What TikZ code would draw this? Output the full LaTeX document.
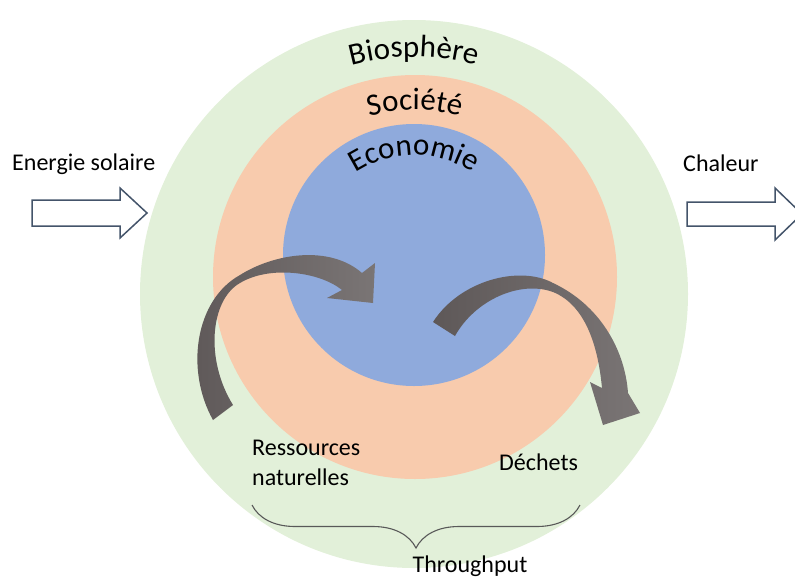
\documentclass[tikz,border=0pt]{standalone}
\usepackage{fontspec}
\setmainfont{Carlito}
\usetikzlibrary{decorations.text,decorations.pathreplacing}

\definecolor{bioGreen}{HTML}{E2F0D9}
\definecolor{socSalmon}{HTML}{F8CBAD}
\definecolor{ecoBlue}{HTML}{8FAADC}
\definecolor{flowDark}{HTML}{5E5858}
\definecolor{flowLight}{HTML}{7A7575}
\definecolor{hollowLine}{HTML}{44546A}
\definecolor{braceGray}{HTML}{595959}

\newcommand{\ringfont}{\fontsize{31}{36}\selectfont}

\begin{document}
\begin{tikzpicture}[
    x=1pt, y=-1pt,
    every node/.style = {font=\fontsize{24}{30}\selectfont, inner sep=0pt},
    txt/.style        = {anchor=base west},
    ringtitle/.style  = {decorate, decoration={text along path, text align=center, text={|\ringfont|#1}}},
    hollow/.style     = {draw=hollowLine, line width=1.5pt, fill=white},
    flowarrow/.style  = {left color=flowDark, right color=flowLight},
]
\useasboundingbox (0,0) rectangle (795,576);
\clip (0,0) rectangle (795,576);

\coordinate (bio) at (414,294);
\coordinate (soc) at (415,277);
\coordinate (eco) at (414,255);

% the three spheres
\fill[bioGreen]  (bio) circle[radius=274];
\fill[socSalmon] (soc) circle[radius=202];
\fill[ecoBlue]   (eco) circle[radius=131];

\path[ringtitle=Biosphère] (bio) ++(200:237) arc[start angle=200, end angle=340, radius=237];
\path[ringtitle=Société]   (soc) ++(205:167) arc[start angle=205, end angle=335, radius=167];
\path[ringtitle=Economie]  (eco) ++(0,7) ++(212:107) arc[start angle=212, end angle=328, radius=107];

% flows in and out of the economy
\shade[flowarrow] (213,420) .. controls (185,370) and (195,300) .. (240,275)
    .. controls (275,253) and (330,245) .. (362,273)
    -- (375,263) -- (373,303) -- (327,298) -- (342,290)
    .. controls (320,272) and (270,265) .. (240,283)
    .. controls (210,300) and (205,360) .. (233,405) -- cycle;
\shade[flowarrow] (433,322) .. controls (460,280) and (520,265) .. (553,283)
    .. controls (600,305) and (625,350) .. (628,393)
    -- (640,413) -- (603,425) -- (590,382) -- (602,388)
    .. controls (598,345) and (585,305) .. (553,292)
    .. controls (520,280) and (475,300) .. (455,336) -- cycle;

% energy
\draw[hollow] (32,200) -- (120,200) -- (120,188) -- (147,213) -- (120,238) -- (120,226) -- (32,226) -- cycle;
\draw[hollow] (687,202) -- (775,202) -- (775,188) -- (802,214) -- (775,240) -- (775,226) -- (687,226) -- cycle;

\node[txt] (solarTxt) at (12,170) {Energie solaire};
\node[txt] (heatTxt) at (683,171) {Chaleur};
\node[txt, align=left] (resTxt) at (252,485) {Ressources\\naturelles};
\node[txt] (wasteTxt) at (499,470) {Déchets};

\coordinate (braceR) at (580,505);
\coordinate (braceL) at (252,505);
\draw[braceGray, line width=1.1pt, decorate, decoration={brace, amplitude=43pt}] (braceR) -- (braceL);
\node[anchor=base] (thruTxt) at (470,572) {Throughput};
\end{tikzpicture}
\end{document}
